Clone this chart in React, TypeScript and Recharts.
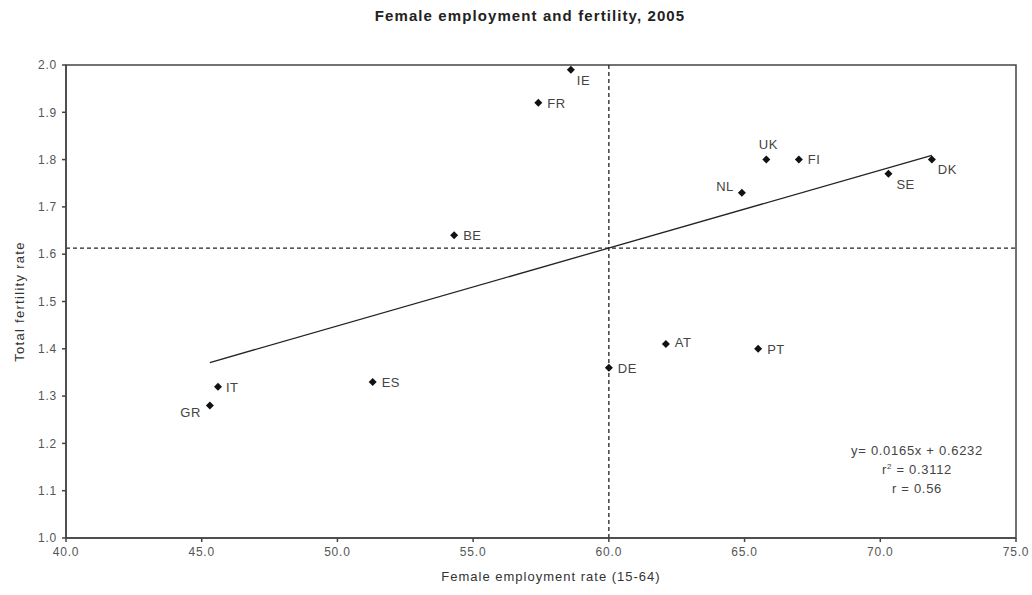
import {
	ScatterChart,
	Scatter,
	XAxis,
	YAxis,
	ReferenceLine,
	ReferenceArea,
	LabelList,
	Label,
} from "recharts";

// values
const countries = ["IE", "FR", "UK", "FI", "NL", "SE", "DK", "BE", "AT", "PT", "DE", "ES", "IT", "GR"];
const employment = [58.6, 57.4, 65.8, 67.0, 64.9, 70.3, 71.9, 54.3, 62.1, 65.5, 60.0, 51.3, 45.6, 45.3];
const fertility = [1.99, 1.92, 1.80, 1.80, 1.73, 1.77, 1.80, 1.64, 1.41, 1.40, 1.36, 1.33, 1.32, 1.28];

const xTicks = [40, 45, 50, 55, 60, 65, 70, 75];
const yTicks = [1.0, 1.1, 1.2, 1.3, 1.4, 1.5, 1.6, 1.7, 1.8, 1.9, 2.0];

const meanEmployment = 60.0;
const meanFertility = 1.613;

// trend line ends, as drawn
const trendStart = { x: 45.3, y: 1.371 };
const trendEnd = { x: 71.9, y: 1.809 };

const equationLines = ["y= 0.0165x + 0.6232", "r2 = 0.3112", "r = 0.56"];

const data = countries.map((c, i) => ({ name: c, x: employment[i], y: fertility[i] }));

// label placement relative to the marker
const labelPos: Record<string, { dx: number; dy: number; anchor: string }> = {
	IE: { dx: 6, dy: 15, anchor: "start" },
	FR: { dx: 9, dy: 5, anchor: "start" },
	UK: { dx: 2, dy: -11, anchor: "middle" },
	FI: { dx: 9, dy: 4, anchor: "start" },
	NL: { dx: -8, dy: -2, anchor: "end" },
	SE: { dx: 8, dy: 15, anchor: "start" },
	DK: { dx: 6, dy: 14, anchor: "start" },
	BE: { dx: 9, dy: 5, anchor: "start" },
	AT: { dx: 9, dy: 3, anchor: "start" },
	PT: { dx: 9, dy: 5, anchor: "start" },
	DE: { dx: 9, dy: 5, anchor: "start" },
	ES: { dx: 9, dy: 5, anchor: "start" },
	IT: { dx: 8, dy: 5, anchor: "start" },
	GR: { dx: -9, dy: 11, anchor: "end" },
};

const FONT = "'Liberation Sans', Arial, sans-serif";

const Diamond = (props: any) => {
	const { cx, cy } = props;
	if (cx == null || cy == null) return null;
	const r = 4;
	return (
		<path
			d={`M${cx},${cy - r}L${cx + r},${cy}L${cx},${cy + r}L${cx - r},${cy}Z`}
			fill="#111"
		/>
	);
};

const CountryLabel = (props: any) => {
	const { x, y, width, height, value } = props;
	const p = labelPos[value] || { dx: 8, dy: 4, anchor: "start" };
	const cx = x + (width || 0) / 2;
	const cy = y + (height || 0) / 2;
	return (
		<text
			x={cx + p.dx}
			y={cy + p.dy}
			textAnchor={p.anchor as any}
			fontSize={13}
			letterSpacing={0.5}
			fontFamily={FONT}
			fill="#444"
		>
			{value}
		</text>
	);
};

export default function App() {
	return (
		<div
			style={{
				position: "absolute",
				left: 0,
				top: 0,
				width: 1032,
				height: 595,
				background: "#fff",
				fontFamily: FONT,
			}}
		>
			<div
				style={{
					position: "absolute",
					top: 7,
					left: 0,
					width: 1032,
					textAlign: "center",
					paddingLeft: 28,
					boxSizing: "border-box",
					fontSize: 15,
					letterSpacing: 1.1,
					fontWeight: 600,
					color: "#222",
				}}
			>
				Female employment and fertility, 2005
			</div>
			<ScatterChart
				width={1032}
				height={595}
				margin={{ top: 65, right: 16, bottom: 17, left: 0 }}
			>
				<ReferenceArea
					x1={40}
					x2={75}
					y1={1}
					y2={2}
					fill="none"
					stroke="#444"
					strokeWidth={1.5}
					ifOverflow="visible"
				/>
				<XAxis
					type="number"
					dataKey="x"
					domain={[40, 75]}
					ticks={xTicks}
					tickFormatter={(v: number) => v.toFixed(1)}
					height={40}
					stroke="#444"
					strokeWidth={1.5}
					tickSize={4}
					tick={{ fill: "#555", fontSize: 12, letterSpacing: 0.8, fontFamily: FONT }}
					tickMargin={5}
				>
					<Label
						content={({ viewBox }: any) => (
							<text
								x={viewBox.x + viewBox.width / 2 + 10}
								y={581}
								textAnchor="middle"
								fontSize={13}
								letterSpacing={1}
								fontFamily={FONT}
								fill="#333"
							>
								Female employment rate (15-64)
							</text>
						)}
					/>
				</XAxis>
				<YAxis
					type="number"
					dataKey="y"
					domain={[1, 2]}
					ticks={yTicks}
					tickFormatter={(v: number) => v.toFixed(1)}
					width={66}
					stroke="#444"
					strokeWidth={1.5}
					tickSize={4}
					tick={{ fill: "#555", fontSize: 12, letterSpacing: 0.8, fontFamily: FONT }}
					tickMargin={5}
					allowDataOverflow
				>
					<Label
						content={({ viewBox }: any) => {
							const cy = viewBox.y + viewBox.height / 2;
							return (
								<text
									x={19}
									y={cy}
									transform={`rotate(-90, 19, ${cy})`}
									textAnchor="middle"
									dominantBaseline="central"
									fontSize={13}
									letterSpacing={1.3}
									fontFamily={FONT}
									fill="#333"
								>
									Total fertility rate
								</text>
							);
						}}
					/>
				</YAxis>
				<ReferenceLine
					x={meanEmployment}
					stroke="#222"
					strokeWidth={1.3}
					strokeDasharray="4 3"
				/>
				<ReferenceLine
					y={meanFertility}
					stroke="#222"
					strokeWidth={1.3}
					strokeDasharray="4 3"
				/>
				<ReferenceLine
					segment={[trendStart, trendEnd]}
					stroke="#222"
					strokeWidth={1.3}
				/>
				<Scatter data={data} shape={<Diamond />} isAnimationActive={false}>
					<LabelList dataKey="name" content={<CountryLabel />} />
				</Scatter>
				<ReferenceLine
					y={1.15}
					stroke="none"
					label={() => {
						const cx = 917;
						const y0 = 455;
						return (
							<g fontSize={13} letterSpacing={0.7} fontFamily={FONT} fill="#444" textAnchor="middle">
								<text x={cx} y={y0}>{equationLines[0]}</text>
								<text x={cx} y={y0 + 19}>
									r<tspan dy={-5} fontSize={8}>2</tspan>
									<tspan dy={5}>{equationLines[1].slice(2)}</tspan>
								</text>
								<text x={cx} y={y0 + 38}>{equationLines[2]}</text>
							</g>
						);
					}}
				/>
			</ScatterChart>
		</div>
	);
}
